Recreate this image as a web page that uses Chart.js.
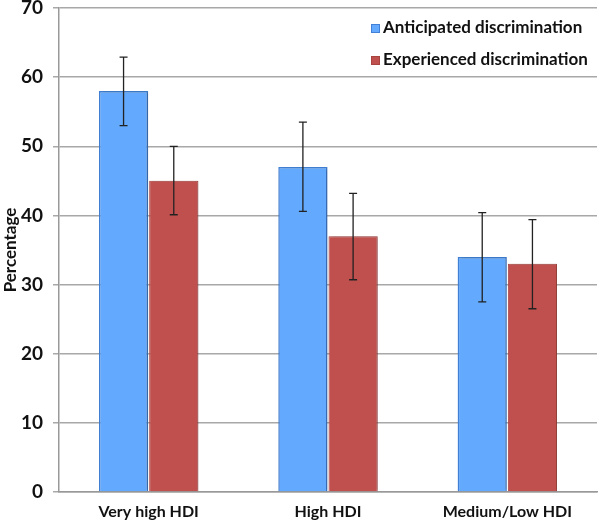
<!DOCTYPE html>
<html>
<head>
<meta charset="utf-8">
<script src="https://cdn.jsdelivr.net/npm/chart.js@4"></script>
<style>
    html, body { margin: 0; padding: 0; background: #fff; }
    #wrap { width: 600px; height: 528px; position: relative; }
</style>
</head>
<body>
<div id="wrap"><canvas id="hdiChart"></canvas></div>
<script>
// Chart data
const categories = ['Very high HDI', 'High HDI', 'Medium/Low HDI'];
const anticipated = [58, 47, 34];
const anticipatedLow = [53, 40.6, 27.5];
const anticipatedHigh = [62.9, 53.5, 40.4];
const experienced = [45, 37, 33];
const experiencedLow = [40.1, 30.7, 26.5];
const experiencedHigh = [50, 43.2, 39.4];
const yTicks = [0, 10, 20, 30, 40, 50, 60, 70];

const FONT = 'Lato, "Open Sans", sans-serif';

// Soft grey shadow behind the bars
const barShadow = {
    id: 'barShadow',
    beforeDatasetDraw(chart) {
        const ctx = chart.ctx;
        ctx.save();
        ctx.shadowColor = 'rgba(0,0,0,0.25)';
        ctx.shadowBlur = 3;
        ctx.shadowOffsetX = 2;
        ctx.shadowOffsetY = 0;
    },
    afterDatasetDraw(chart) {
        chart.ctx.restore();
    }
};

// Error bars drawn from the low/high arrays
const errorBars = {
    id: 'errorBars',
    afterDatasetsDraw(chart) {
        const ctx = chart.ctx;
        const y = chart.scales.y;
        ctx.save();
        ctx.strokeStyle = '#222';
        ctx.lineWidth = 1.3;
        chart.data.datasets.forEach((ds, i) => {
            const meta = chart.getDatasetMeta(i);
            meta.data.forEach((bar, j) => {
                const x = bar.x;
                const yl = y.getPixelForValue(ds.errLow[j]);
                const yh = y.getPixelForValue(ds.errHigh[j]);
                ctx.beginPath();
                ctx.moveTo(x, yl); ctx.lineTo(x, yh);
                ctx.moveTo(x - 4, yl); ctx.lineTo(x + 4, yl);
                ctx.moveTo(x - 4, yh); ctx.lineTo(x + 4, yh);
                ctx.stroke();
            });
        });
        ctx.restore();
    }
};

// Legend inside the plot, top right
const insideLegend = {
    id: 'insideLegend',
    afterDraw(chart) {
        const ctx = chart.ctx;
        ctx.save();
        ctx.font = 'bold 17px ' + FONT;
        ctx.textBaseline = 'middle';
        chart.data.datasets.forEach((ds, i) => {
            const ty = 28 + i * 32;
            ctx.fillStyle = ds.backgroundColor;
            ctx.strokeStyle = ds.borderColor;
            ctx.lineWidth = 1;
            ctx.fillRect(371.5, ty - 3.5, 8, 8);
            ctx.strokeRect(371.5, ty - 3.5, 8, 8);
            ctx.fillStyle = '#111';
            ctx.fillText(ds.label, 383, ty);
        });
        ctx.restore();
    }
};

new Chart(document.getElementById('hdiChart'), {
    type: 'bar',
    data: {
        labels: categories,
        datasets: [{
            label: 'Anticipated discrimination',
            data: anticipated,
            errLow: anticipatedLow,
            errHigh: anticipatedHigh,
            backgroundColor: '#63a9fd',
            borderColor: '#4180d6',
            borderWidth: 1.5
        }, {
            label: 'Experienced discrimination',
            data: experienced,
            errLow: experiencedLow,
            errHigh: experiencedHigh,
            backgroundColor: '#c0504e',
            borderColor: '#a84440',
            borderWidth: 1
        }]
    },
    options: {
        responsive: true,
        maintainAspectRatio: false,
        animation: false,
        layout: { padding: { top: 8, right: 3, left: 0, bottom: 0 } },
        plugins: {
            legend: { display: false },
            tooltip: { enabled: false }
        },
        datasets: {
            bar: { categoryPercentage: 0.56, barPercentage: 0.98 }
        },
        scales: {
            x: {
                grid: { display: false, drawTicks: false },
                border: { color: '#999', width: 1.5 },
                ticks: {
                    color: '#111',
                    padding: 10,
                    font: { family: FONT, size: 16, weight: 'bold' }
                },
                afterFit(scale) {
                    scale.height = 36;
                    scale.paddingLeft = 0;
                    scale.paddingRight = 0;
                }
            },
            y: {
                min: 0,
                max: 70,
                afterBuildTicks(scale) {
                    scale.ticks = yTicks.map(v => ({ value: v }));
                },
                grid: { color: '#a8a8a8', lineWidth: 1.5, tickLength: 6 },
                border: { color: '#999', width: 1.5 },
                ticks: {
                    color: '#111',
                    padding: 10,
                    font: { family: FONT, size: 19, weight: 'bold' }
                },
                title: {
                    display: true,
                    text: 'Percentage',
                    color: '#111',
                    padding: 0,
                    font: { family: FONT, size: 17, weight: 'bold' }
                },
                afterFit(scale) {
                    scale.width = 59;
                    scale.paddingTop = 0;
                    scale.paddingBottom = 0;
                }
            }
        }
    },
    plugins: [barShadow, errorBars, insideLegend]
});
</script>
</body>
</html>
